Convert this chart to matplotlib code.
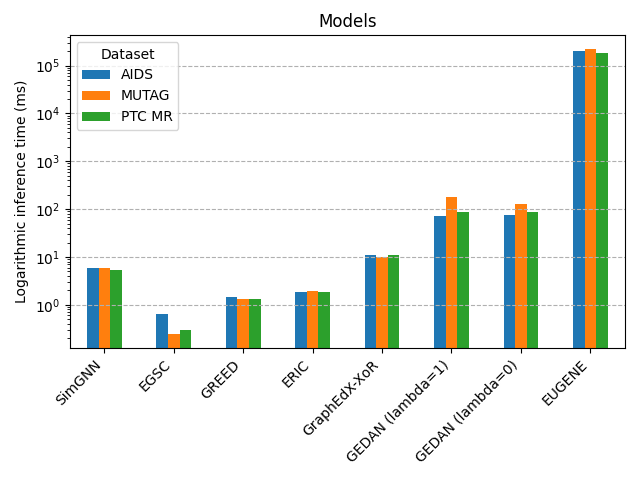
import matplotlib
matplotlib.use("Agg")
import matplotlib.pyplot as plt
import numpy as np
import pandas as pd

# inference times (ms)
models = ['SimGNN', 'EGSC', 'GREED', 'ERIC', 'GraphEdX-XoR',
          'GEDAN (lambda=1)', 'GEDAN (lambda=0)', 'EUGENE']
aids = [5.9, 0.65, 1.47, 1.87, 11.0, 71, 75, 205000]
mutag = [6.0, 0.25, 1.33, 1.95, 9.9, 178, 126, 220000]
ptc_mr = [5.4, 0.30, 1.33, 1.87, 11.0, 87, 87, 187000]

df = pd.DataFrame({'AIDS': aids, 'MUTAG': mutag, 'PTC MR': ptc_mr}, index=models)

fig, ax = plt.subplots(figsize=(6.4, 4.8), dpi=100)
df.plot(kind='bar', ax=ax, logy=True)

ax.set_title('Models')
ax.set_ylabel('Logarithmic inference time (ms)')
ax.grid(axis='y', linestyle='--')
plt.xticks(rotation=45, ha='right')
ax.legend(title='Dataset', loc='upper left')

plt.tight_layout()
fig.subplots_adjust(top=0.927)
plt.savefig('out.png')
